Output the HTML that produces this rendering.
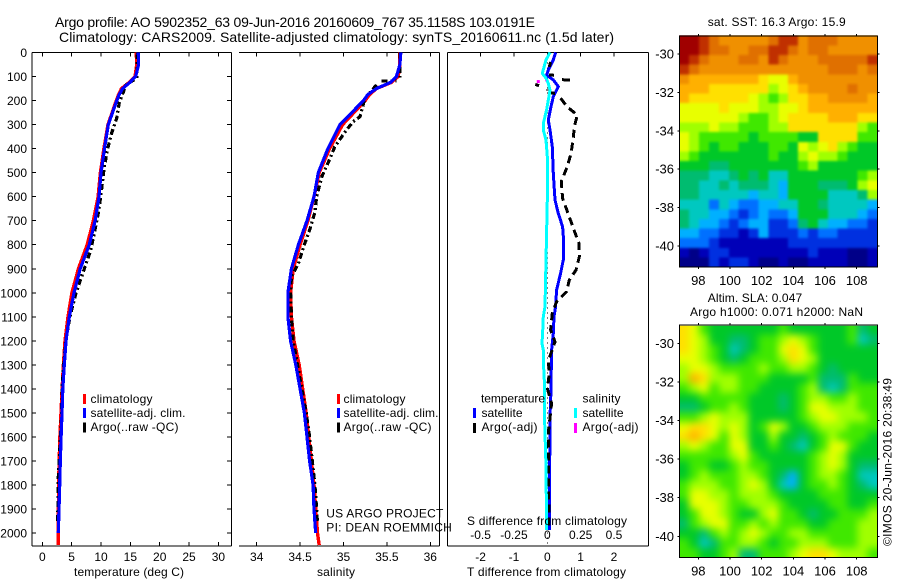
<!DOCTYPE html>
<html>
<head>
<meta charset="utf-8">
<title>Argo profile comparison</title>
<style>
html,body{margin:0;padding:0;background:#fff;}
svg{display:block;font-family:"Liberation Sans",sans-serif;fill:#000;}
text{font-size:12px;}
</style>
</head>
<body>
<svg id="chart" xmlns="http://www.w3.org/2000/svg" width="900" height="580" viewBox="0 0 900 580">
<defs>
<filter id="sstBlur" filterUnits="userSpaceOnUse" x="640" y="0" width="260" height="300" color-interpolation-filters="sRGB"><feGaussianBlur stdDeviation="1.3"/></filter>
<filter id="slaBlur" filterUnits="userSpaceOnUse" x="640" y="290" width="260" height="290" color-interpolation-filters="sRGB"><feGaussianBlur stdDeviation="4"/></filter>
<clipPath id="sstClip"><rect x="679.3" y="35.3" width="198" height="231.7"/></clipPath>
<clipPath id="slaClip"><rect x="679.3" y="325.7" width="198" height="231.3"/></clipPath>
</defs>
<rect x="0" y="0" width="900" height="580" fill="#fff"/>
<text x="55" y="27" style="font-size:14px" textLength="480" lengthAdjust="spacing">Argo profile: AO 5902352_63 09-Jun-2016 20160609_767 35.1158S 103.0191E</text>
<text x="59" y="42" style="font-size:14px" textLength="555" lengthAdjust="spacing">Climatology: CARS2009. Satellite-adjusted climatology: synTS_20160611.nc (1.5d later)</text>
<g id="marks"></g>
<text x="74" y="576" textLength="110" lengthAdjust="spacing">temperature (deg C)</text>
<text x="317" y="576" textLength="38" lengthAdjust="spacing">salinity</text>
<text x="467" y="576" textLength="159" lengthAdjust="spacing">T difference from climatology</text>
<text x="467" y="525" textLength="160" lengthAdjust="spacing">S difference from climatology</text>
<text x="90.5" y="403" textLength="62" lengthAdjust="spacing">climatology</text>
<text x="90.5" y="417" textLength="95" lengthAdjust="spacing">satellite-adj. clim.</text>
<text x="90.5" y="431" textLength="88" lengthAdjust="spacing">Argo(..raw -QC)</text>
<text x="343.5" y="403" textLength="62" lengthAdjust="spacing">climatology</text>
<text x="343.5" y="417" textLength="95" lengthAdjust="spacing">satellite-adj. clim.</text>
<text x="343.5" y="431" textLength="88" lengthAdjust="spacing">Argo(..raw -QC)</text>
<text x="481" y="402.5" textLength="64" lengthAdjust="spacing">temperature</text>
<text x="481.5" y="417" textLength="41" lengthAdjust="spacing">satellite</text>
<text x="481.5" y="431" textLength="56" lengthAdjust="spacing">Argo(-adj)</text>
<text x="582.5" y="402.5" textLength="38" lengthAdjust="spacing">salinity</text>
<text x="582.5" y="417" textLength="41" lengthAdjust="spacing">satellite</text>
<text x="582.5" y="431" textLength="56" lengthAdjust="spacing">Argo(-adj)</text>
<text x="326.3" y="517.5" textLength="117" lengthAdjust="spacing">US ARGO PROJECT</text>
<text x="326.3" y="531.5" textLength="125.5" lengthAdjust="spacing">PI: DEAN ROEMMICH</text>
<text x="707.7" y="26" textLength="138" lengthAdjust="spacing">sat. SST: 16.3 Argo: 15.9</text>
<text x="707.7" y="302" textLength="94.5" lengthAdjust="spacing">Altim. SLA: 0.047</text>
<text x="690" y="316" textLength="173" lengthAdjust="spacing">Argo h1000: 0.071 h2000: NaN</text>
<text transform="translate(891.5,546) rotate(-90)" textLength="168" lengthAdjust="spacing">©IMOS 20-Jun-2016 20:38:49</text>
</svg>
<script>
// ---- profile data (depth in m); null separates broken segments ----
const depthTicks = [0,100,200,300,400,500,600,700,800,900,1000,1100,1200,1300,1400,1500,1600,1700,1800,1900,2000];
const tempTicks = [0,5,10,15,20,25,30];
const salTicks = [34,34.5,35,35.5,36];
const tDiffTicks = [-2,-1,0,1,2];
const sDiffTicks = [-0.5,-0.25,0,0.25,0.5];
const sDiffTickLabels = ['-0.5','-0.25','0','0.25','0.5'];
const lonTicks = [98,100,102,104,106,108];
const latTicks = [-30,-32,-34,-36,-38,-40];

const climDepth = [0,50,100,125,150,175,200,300,400,500,600,700,800,900,1000,1100,1200,1300,1400,1500,1600,1700,1800,1900,2000,2050];
const climTemp = [16.0,16.1,15.8,14.8,13.5,13.0,12.6,11.2,10.5,9.9,9.5,8.7,7.65,6.15,5.05,4.38,3.87,3.6,3.38,3.18,3.0,2.88,2.78,2.75,2.72,2.7];
const climSal = [35.65,35.65,35.63,35.55,35.38,35.3,35.25,34.99,34.84,34.72,34.66,34.59,34.5,34.42,34.39,34.4,34.43,34.49,34.53,34.57,34.6,34.63,34.66,34.68,34.7,34.72];

const satDepth = [0,50,100,125,150,175,200,300,400,500,600,700,800,900,1000,1100,1200,1300,1400,1500,1600,1700,1800,1900,2000];
const satTemp = [16.35,16.4,15.9,14.9,13.7,13.1,12.7,11.25,10.6,10.0,9.66,9.0,8.0,6.45,5.4,4.6,4.04,3.75,3.5,3.36,3.2,3.07,2.96,2.85,2.73];
const satSal = [35.66,35.65,35.61,35.54,35.38,35.28,35.23,34.96,34.82,34.71,34.66,34.58,34.48,34.4,34.36,34.36,34.39,34.45,34.5,34.55,34.58,34.61,34.65,34.66,34.68];

const argoTempDepth = [2,107,135,211,273,336,406,489,600,669,752,822,892,1001,1100,1200,1300,1400,1500,1600,1750,1900,1950];
const argoTemp = [16.2,16.08,14.26,13.1,12.67,11.8,11.07,10.5,9.95,9.54,8.86,8.24,7.27,5.74,4.7,4.0,3.65,3.35,3.3,3.1,2.75,2.65,2.6];
const argoSalDepth = [2,105,null,118,119,null,135,169,null,200,267,288,330,392,461,517,600,665,739,808,878,933,1000,1100,1200,1300,1400,1500,1600,1700,1800,1900,1960];
const argoSal = [35.65,35.65,null,35.44,35.61,null,35.38,35.3,null,35.24,35.19,35.11,35.02,34.9,34.82,34.75,34.69,34.67,34.61,34.54,34.48,34.4,34.39,34.4,34.42,34.47,34.52,34.57,34.61,34.64,34.67,34.69,34.7];

const diffTSatDepth = [0,31,73,94,114,142,184,225,281,322,392,503,614,669,725,780,863,919,988,1058,1099,1169,1238,1307,1404,1515,1654,1723,1987];
const diffTSat = [0.25,0.18,0.03,-0.02,0.18,0.33,0.18,0.11,0.03,0.08,0.15,0.18,0.23,0.33,0.46,0.49,0.48,0.4,0.28,0.25,0.2,0.18,0.13,0.12,0.11,0.08,0.08,0.06,0.06];
const diffSSatDepth = [0,31,87,107,128,156,198,239,295,322,364,433,614,1058,1099,1169,1210,1238,1307,1390,1487,1585,1723,1987];
const diffSSat = [0.02,-0.01,-0.0375,-0.01,0.0075,0.02,0.0075,-0.005,-0.03,-0.03,-0.01,0,0,-0.0175,-0.03,-0.035,-0.04,-0.03,-0.0275,-0.02,-0.0225,-0.0175,-0.01,-0.005];
const diffTArgoDepth = [40,60,null,93,95,null,113,115,null,133,138,null,155,158,null,168,170,null,190,227,260,309,357,420,475,537,607,676,739,794,850,905,947,995,1037,1085,1155,1204,1280,1349,1398,1460,1585,1668,1800,1980];
const diffTArgo = [0.1,0.06,null,0.05,0.2,null,0.44,0.74,null,-0.36,-0.25,null,0,0,null,0.1,0.23,null,0.4,0.6,0.9,0.81,0.78,0.71,0.6,0.42,0.46,0.64,0.8,0.95,0.96,0.86,0.66,0.58,0.28,0.15,0.1,0.23,0.04,0.05,0,0.13,0.03,0.03,0.04,0.05];
const diffSArgoDepth = [121,122];
const diffSArgo = [-0.0675,-0.005];

// ---- map data: colour level per cell, rows north to south ----
const sstLevels = [
[16,16,15,14,13,13,13,13,13,14,15,15,13,14,14,14,13,13,13,13],
[16,16,15,14,14,13,13,14,14,15,15,14,13,14,14,13,13,13,13,13],
[16,15,14,13,13,13,14,14,13,15,14,13,13,13,14,14,14,14,14,15],
[15,14,13,13,13,13,13,13,13,13,13,13,13,13,13,14,14,14,13,14],
[13,12,12,12,12,12,12,12,11,10,10,12,13,13,13,13,13,13,13,13],
[12,12,12,11,11,11,11,11,11,9,10,11,12,13,13,13,13,14,13,13],
[12,11,11,11,11,11,11,10,9,8,9,11,11,12,12,13,13,13,13,12],
[10,10,10,10,11,10,10,10,9,9,10,10,11,12,12,12,12,12,12,12],
[10,10,10,10,10,10,9,8,8,9,10,11,11,11,11,12,12,12,11,11],
[9,9,9,10,9,9,8,8,8,9,9,11,11,11,11,11,11,11,9,8],
[10,9,8,8,8,8,8,7,8,8,8,8,7,7,11,11,11,11,8,8],
[10,9,8,7,8,8,7,7,7,8,8,7,10,9,10,11,9,8,7,7],
[9,8,7,7,7,7,7,7,7,8,7,7,9,10,9,9,8,7,7,7],
[7,7,7,6,6,7,7,7,7,7,7,7,8,9,7,7,7,7,7,7],
[6,6,6,5,5,6,7,6,7,5,5,7,7,7,7,7,7,7,8,9],
[6,6,5,5,6,5,6,6,6,5,4,7,7,7,6,6,6,7,9,10],
[6,6,5,5,5,5,5,4,5,5,4,7,7,7,7,5,5,5,6,9],
[5,5,5,3,5,4,3,3,4,4,5,5,7,7,6,5,5,5,5,4],
[6,5,5,4,4,3,2,3,4,3,3,4,7,7,7,5,5,5,4,3],
[6,5,4,4,3,2,3,4,4,2,2,3,6,7,5,4,4,3,3,2],
[4,4,3,3,2,2,1,2,4,2,2,2,3,2,3,3,2,2,2,2],
[3,3,3,2,1,1,1,1,1,1,1,2,2,2,2,2,2,2,2,2],
[1,0,1,2,2,1,1,1,1,1,1,1,1,2,1,1,1,0,0,1],
[0,0,0,2,1,2,2,1,0,0,1,0,0,1,1,1,1,0,0,1]
];
const slaLevels = [
[11,10,8,7,7,7,7,7,7,7,8,7,7,7,7,7,7,8,6,7],
[11,10,9,7,7,6,6,7,8,8,9,10,9,8,7,7,7,8,5,6],
[11,10,9,8,7,5,6,7,8,8,10,11,10,8,7,7,7,7,7,7],
[10,10,9,8,7,6,7,8,8,8,9,11,10,9,7,7,7,7,7,7],
[9,10,10,9,8,8,8,8,9,8,8,9,9,8,7,6,7,7,7,7],
[9,12,11,9,9,9,8,8,8,7,7,7,7,8,6,6,6,8,7,7],
[8,9,10,8,9,9,8,8,7,7,7,7,8,9,6,5,6,8,8,8],
[7,7,8,8,8,8,8,7,7,7,6,7,8,9,9,8,8,9,8,8],
[6,6,7,8,8,9,8,7,7,7,6,7,8,10,10,9,9,9,8,8],
[8,8,9,10,9,9,9,7,7,7,7,7,8,9,10,10,9,9,9,8],
[10,11,11,10,9,10,9,7,8,10,9,7,7,8,9,9,9,8,8,8],
[11,12,11,10,8,10,9,7,7,9,7,7,6,7,8,9,8,8,8,7],
[9,10,9,8,8,10,10,7,7,8,7,6,5,7,8,10,10,8,7,7],
[8,8,8,8,8,9,10,8,7,7,7,7,7,8,9,10,9,7,7,7],
[7,8,8,7,7,8,9,8,8,7,7,7,7,8,9,10,9,7,6,6],
[7,8,9,8,8,8,9,9,8,7,6,4,7,8,9,9,8,7,5,5],
[8,9,9,9,8,8,9,10,9,7,5,4,7,8,8,9,8,7,6,5],
[8,10,10,9,9,8,9,9,9,8,7,7,7,7,8,8,8,7,7,7],
[7,10,10,10,9,8,8,9,9,9,8,7,7,7,7,8,8,7,7,8],
[7,8,10,10,9,8,7,7,9,10,8,8,7,6,7,7,8,8,8,9],
[6,8,9,10,10,8,8,9,8,9,8,8,8,7,7,8,8,8,9,9],
[7,7,6,8,9,8,9,10,9,8,8,9,9,8,8,8,8,8,9,9],
[8,7,5,6,8,8,9,9,8,7,8,8,9,9,9,8,8,8,9,9],
[8,8,7,7,8,9,6,6,8,8,8,9,10,11,11,10,9,9,9,8]
];
const levelColors = ['#000088','#0000b8','#0030e0','#0070ff','#00b0ff','#00c8c0','#00bc70','#00c828','#40e800','#a0ff00','#e8ff00','#ffe000','#ffb000','#f09000','#e07000','#c03000','#a00000'];

// ---- axis functions ----
const yDepth = d => 52.5 + d * 0.2403;
const xTemp = t => 42.3 + t * 5.87;
const xSal = s => 256.7 + (s - 34) * 86.8;
const xTDiff = t => 547.3 + t * 33.35;
const xSDiff = s => 547.3 + s * 133.4;
const xLon = lon => 679.3 + (lon - 96.8) * 15.84;
const ySstLat = lat => 54 + (-30 - lat) * 19.2;
const ySlaLat = lat => 343.3 + (-30 - lat) * 19.3;
const lonMin = 96.8, lonMax = 109.3, latTop = -29.05, latBottom = -41.1;

const NS = 'http://www.w3.org/2000/svg';
const root = document.getElementById('marks');
function mk(tag, attrs, text, parent) {
  const el = document.createElementNS(NS, tag);
  for (const k in attrs) el.setAttribute(k, attrs[k]);
  if (text !== undefined && text !== null) el.textContent = text;
  (parent || root).appendChild(el);
  return el;
}
function tickLine(x1, y1, x2, y2, name) {
  const el = mk('line', {x1, y1, x2, y2, stroke: '#000', 'stroke-width': 1, 'shape-rendering': 'crispEdges'});
  
  
}
function tickText(x, y, anchor, str, name, size) {
  const el = mk('text', {x, y, 'text-anchor': anchor, style: 'font-size:' + (size || 12) + 'px'}, str);
  
  
}
function profile(depths, values, xf, color, width, dash, name) {
  let run = [];
  const flush = () => {
    if (!run.length) return;
    const attrs = {points: run.join(' '), fill: 'none', stroke: color, 'stroke-width': width, 'stroke-linejoin': 'round', 'shape-rendering': 'crispEdges'};
    if (dash) attrs['stroke-dasharray'] = dash;
    const el = mk('polyline', attrs);
    
    
    run = [];
  };
  depths.forEach((d, i) => {
    if (d === null || values[i] === null) { flush(); return; }
    run.push(xf(values[i]).toFixed(1) + ',' + yDepth(d).toFixed(1));
  });
  flush();
}
function legendBar(x, y, color, name) {
  const el = mk('rect', {x, y, width: 3, height: 10, fill: color});
  
  
}
function heatmap(levels, yf, name, clipId, filterId) {
  const rows = levels.length, cols = levels[0].length;
  const clipGroup = mk('g', {'clip-path': 'url(#' + clipId + ')'});
  
  
  const cells = mk('g', {filter: 'url(#' + filterId + ')'}, null, clipGroup);
  
  
  levels.forEach((row, r) => row.forEach((lv, c) => {
    const lon0 = lonMin + (lonMax - lonMin) * c / cols, lon1 = lonMin + (lonMax - lonMin) * (c + 1) / cols;
    const lat0 = latTop + (latBottom - latTop) * r / rows, lat1 = latTop + (latBottom - latTop) * (r + 1) / rows;
    // border cells bleed outward so smoothing does not fade at the frame
    const padL = c === 0 ? 20 : 0, padR = c === cols - 1 ? 20 : 0;
    const padT = r === 0 ? 20 : 0, padB = r === rows - 1 ? 20 : 0;
    const cell = mk('rect', {x: xLon(lon0) - padL, y: yf(lat0) - padT, width: xLon(lon1) - xLon(lon0) + 0.5 + padL + padR, height: yf(lat1) - yf(lat0) + 0.5 + padT + padB, fill: levelColors[lv], 'shape-rendering': 'crispEdges'}, null, cells);
    
    
  }));
  const top = yf(latTop), bottom = yf(latBottom);
  const box = mk('rect', {x: xLon(lonMin), y: top, width: xLon(lonMax) - xLon(lonMin), height: bottom - top, fill: 'none', stroke: '#000', 'stroke-width': 1, 'shape-rendering': 'crispEdges'});
  
  
  lonTicks.forEach(v => {
    tickLine(xLon(v), top - 2, xLon(v), top, name + '-top-tick');
    tickLine(xLon(v), bottom, xLon(v), bottom + 2, name + '-bottom-tick');
    tickText(xLon(v), bottom + 18, 'middle', String(v), name + '-lon-label', 13);
  });
  latTicks.forEach(v => {
    tickLine(xLon(lonMin) - 2, yf(v), xLon(lonMin), yf(v), name + '-left-tick');
    tickLine(xLon(lonMax), yf(v), xLon(lonMax) + 2, yf(v), name + '-right-tick');
    tickText(674, yf(v) + 4.5, 'end', String(v), name + '-lat-label', 13);
  });
}

// ---- panel frames ----
const top0 = 52.5, bottom0 = 546;
function hFrame(x1, x2, name) {
  tickLine(x1, top0, x2, top0, name + '-top-edge');
  tickLine(x1, bottom0, x2, bottom0, name + '-bottom-edge');
}
hFrame(32, 231.5, 'temperature-panel');
tickLine(32, top0, 32, bottom0, 'temperature-panel-left-edge');
tickLine(231.5, top0, 231.5, bottom0, 'temperature-panel-right-edge');
hFrame(239, 439.5, 'salinity-panel');
tickLine(439.5, top0, 439.5, bottom0, 'salinity-panel-right-edge');
hFrame(447.5, 648.5, 'difference-panel');
tickLine(447.5, top0, 447.5, bottom0, 'difference-panel-left-edge');
tickLine(648.5, top0, 648.5, bottom0, 'difference-panel-right-edge');

depthTicks.forEach(d => {
  tickLine(32, yDepth(d), 36, yDepth(d), 'depth-left-tick');
  tickLine(227, yDepth(d), 231.5, yDepth(d), 'depth-right-tick');
  tickText(27, yDepth(d) + 4.5, 'end', String(d), 'depth-tick-label');
});
tempTicks.forEach(v => {
  tickLine(xTemp(v), top0, xTemp(v), top0 + 4, 'temperature-top-tick');
  tickLine(xTemp(v), bottom0 - 4, xTemp(v), bottom0, 'temperature-bottom-tick');
  tickText(xTemp(v), 561, 'middle', String(v), 'temperature-tick-label');
});
salTicks.forEach(v => {
  tickLine(xSal(v), top0, xSal(v), top0 + 4, 'salinity-top-tick');
  tickLine(xSal(v), bottom0 - 4, xSal(v), bottom0, 'salinity-bottom-tick');
  tickText(xSal(v), 561, 'middle', String(v), 'salinity-tick-label');
});
tDiffTicks.forEach(v => {
  tickLine(xTDiff(v), top0, xTDiff(v), top0 + 4, 't-difference-top-tick');
  tickText(xTDiff(v), 561, 'middle', String(v), 't-difference-tick-label');
});
sDiffTicks.forEach((v, i) => {
  tickText(xSDiff(v), 539, 'middle', sDiffTickLabels[i], 's-difference-tick-label');
});

// ---- profiles ----
profile(climDepth, climTemp, xTemp, '#f00', 3.4, null, 'temperature-climatology-line');
profile(argoTempDepth, argoTemp, xTemp, '#000', 3.2, '6 3 2 3', 'temperature-argo-line');
profile(satDepth, satTemp, xTemp, '#00f', 3.2, null, 'temperature-satellite-line');
profile(climDepth, climSal, xSal, '#f00', 3.4, null, 'salinity-climatology-line');
profile(argoSalDepth, argoSal, xSal, '#000', 3.2, '6 3 2 3', 'salinity-argo-line');
profile(satDepth, satSal, xSal, '#00f', 3.2, null, 'salinity-satellite-line');

const zero = mk('line', {x1: xTDiff(0), y1: top0, x2: xTDiff(0), y2: bottom0, stroke: '#000', 'stroke-width': 1, 'stroke-dasharray': '1 4', 'shape-rendering': 'crispEdges'});


profile(diffTSatDepth, diffTSat, xTDiff, '#00f', 3, null, 'difference-temperature-satellite-line');
profile(diffTArgoDepth, diffTArgo, xTDiff, '#000', 3, '8 5', 'difference-temperature-argo-line');
profile(diffSSatDepth, diffSSat, xSDiff, '#0ff', 3, null, 'difference-salinity-satellite-line');
diffSArgo.forEach((v, i) => {
  const dot = mk('rect', {x: xSDiff(v) - 1.5, y: yDepth(diffSArgoDepth[i]) - 1.5, width: i === 0 ? 3 : 1, height: i === 0 ? 3 : 1, fill: '#f0f'});
  
  
});

// ---- legend swatches ----
legendBar(83, 394, '#f00', 'legend-temp-climatology-swatch');
legendBar(83, 408, '#00f', 'legend-temp-satellite-swatch');
legendBar(83, 422.5, '#000', 'legend-temp-argo-swatch');
legendBar(337, 394, '#f00', 'legend-sal-climatology-swatch');
legendBar(337, 408, '#00f', 'legend-sal-satellite-swatch');
legendBar(337, 422.5, '#000', 'legend-sal-argo-swatch');
legendBar(473, 408, '#00f', 'legend-diff-temp-satellite-swatch');
legendBar(473, 423, '#000', 'legend-diff-temp-argo-swatch');
legendBar(574, 408, '#0ff', 'legend-diff-sal-satellite-swatch');
legendBar(574, 423, '#f0f', 'legend-diff-sal-argo-swatch');

// ---- maps ----
heatmap(sstLevels, ySstLat, 'sst-map', 'sstClip', 'sstBlur');
heatmap(slaLevels, ySlaLat, 'sla-map', 'slaClip', 'slaBlur');
</script>
</body>
</html>
